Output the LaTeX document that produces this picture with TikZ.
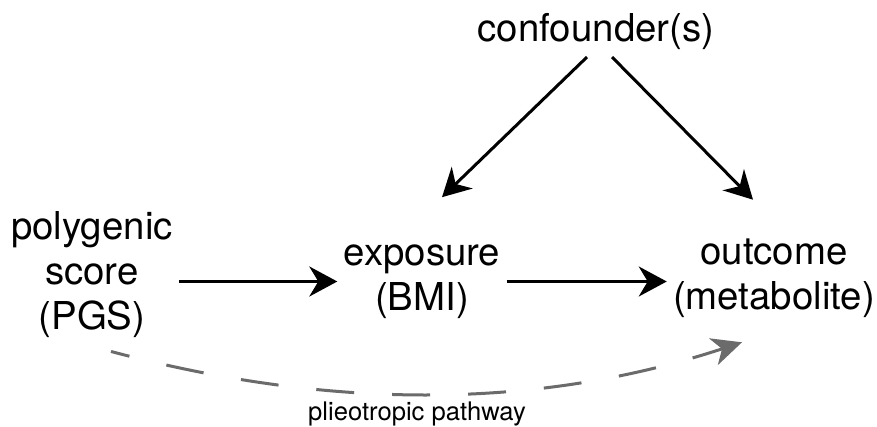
\documentclass[tikz,border=0pt]{standalone}
\usepackage{fontspec}
\setmainfont{TeX Gyre Heros}
\usetikzlibrary{arrows.meta,calc}
\definecolor{pathgray}{HTML}{6B6B6B}
\tikzset{
  lbl/.style={align=center,inner sep=3pt,font=\fontsize{19.2}{22.5}\selectfont},
  arr/.style={line width=1.5pt,-{Stealth[length=14pt,width=15pt,inset=4.5pt]}},
  pleio/.style={line width=1.5pt,pathgray,dash pattern=on 19pt off 19pt,dash phase=9.5pt,
    -{Stealth[length=15pt,width=14pt,inset=4.5pt]}}
}
\begin{document}
\begin{tikzpicture}[x=0.5pt,y=-0.5pt]
        \useasboundingbox (0,0) rectangle (877,427);
        \node[lbl] (conf) at (596,31.5) {confounder(s)};
        \node[lbl] (pgs) at (92,275) {polygenic\\score\\(PGS)};
        \node[lbl] (exp) at (422,281.5) {exposure\\(BMI)};
        \node[lbl] (out) at (774,278.5) {outcome\\(metabolite)};
        \node[inner sep=0pt,font=\fontsize{12.8}{15}\selectfont] (path) at (417,413.5) {plieotropic pathway};
        \draw[arr] (pgs.east |- exp) -- (exp);
        \draw[arr] (exp) -- (exp -| out.west);
        \draw[arr] ($(conf.south)+(-9,1)$) -- ($(exp.north)+(20,-41)$);
        \draw[arr] ($(conf.south)+(16,1)$) -- ($(out.north)+(-21,-33)$);
        \draw[pleio] ($(pgs.south)+(19,7)$) .. controls (323,408) and (530,412) .. ($(out.south)+(-32,18)$);
    \end{tikzpicture}
\end{document}
